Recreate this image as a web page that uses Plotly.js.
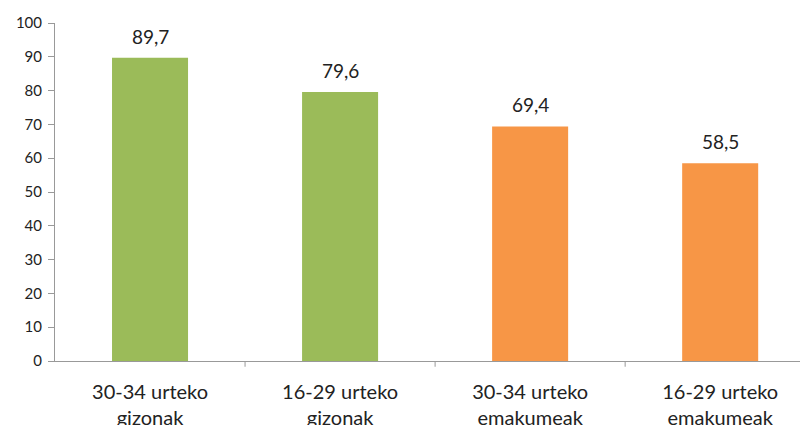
<!DOCTYPE html>
<html>
<head>
<meta charset="utf-8">
<script src="https://cdn.plot.ly/plotly-3.0.1.min.js"></script>
<style>html,body{margin:0;padding:0;background:#fff;}#chart{width:802px;height:425px;}</style>
</head>
<body>
<div id="chart"></div>
<script>
const categories = ["30-34 urteko<br>gizonak", "16-29 urteko<br>gizonak", "30-34 urteko<br>emakumeak", "16-29 urteko<br>emakumeak"];
const values = [89.7, 79.6, 69.4, 58.5];
const labels = ["89,7", "79,6", "69,4", "58,5"];
const colors = ["#9BBB59", "#9BBB59", "#F79646", "#F79646"];
const yTicks = [0, 10, 20, 30, 40, 50, 60, 70, 80, 90, 100];
const boundaries = [0.5, 1.5, 2.5];

const trace = {
  type: "bar",
  x: categories,
  y: values,
  marker: {color: colors},
  hoverinfo: "none"
};

const annotations = categories.map((c, i) => ({
  x: c, y: values[i], text: labels[i], showarrow: false,
  xref: "x", yref: "y", yanchor: "bottom", yshift: 8,
  font: {family: "Lato, 'Open Sans', sans-serif", size: 19, color: "#222"}
}));

const layout = {
  width: 802, height: 425,
  margin: {l: 55, r: 2, t: 23, b: 64},
  paper_bgcolor: "#fff", plot_bgcolor: "#fff",
  bargap: 0.6,
  showlegend: false,
  xaxis: {
    type: "category",
    range: [-0.5, 3.42],
    showline: true, linecolor: "#999", linewidth: 1,
    ticks: "", showgrid: false, zeroline: false,
    tickfont: {family: "Lato, 'Open Sans', sans-serif", size: 20, color: "#222"},
    ticklabelstandoff: 13
  },
  yaxis: {
    range: [0, 100], tickvals: yTicks, ticktext: yTicks.map(String),
    showline: true, linecolor: "#999", linewidth: 1,
    ticks: "outside", ticklen: 6, tickcolor: "#999",
    showgrid: false, zeroline: false,
    tickfont: {family: "Lato, 'Open Sans', sans-serif", size: 15, color: "#222"},
    ticklabelstandoff: 3
  },
  annotations: annotations,
  shapes: boundaries.map(v => ({
    type: "line", xref: "x", yref: "paper", x0: v, x1: v, y0: 0, y1: -0.017,
    line: {color: "#999", width: 1}
  }))
};

Plotly.newPlot("chart", [trace], layout, {staticPlot: true, displayModeBar: false});
</script>
</body>
</html>
